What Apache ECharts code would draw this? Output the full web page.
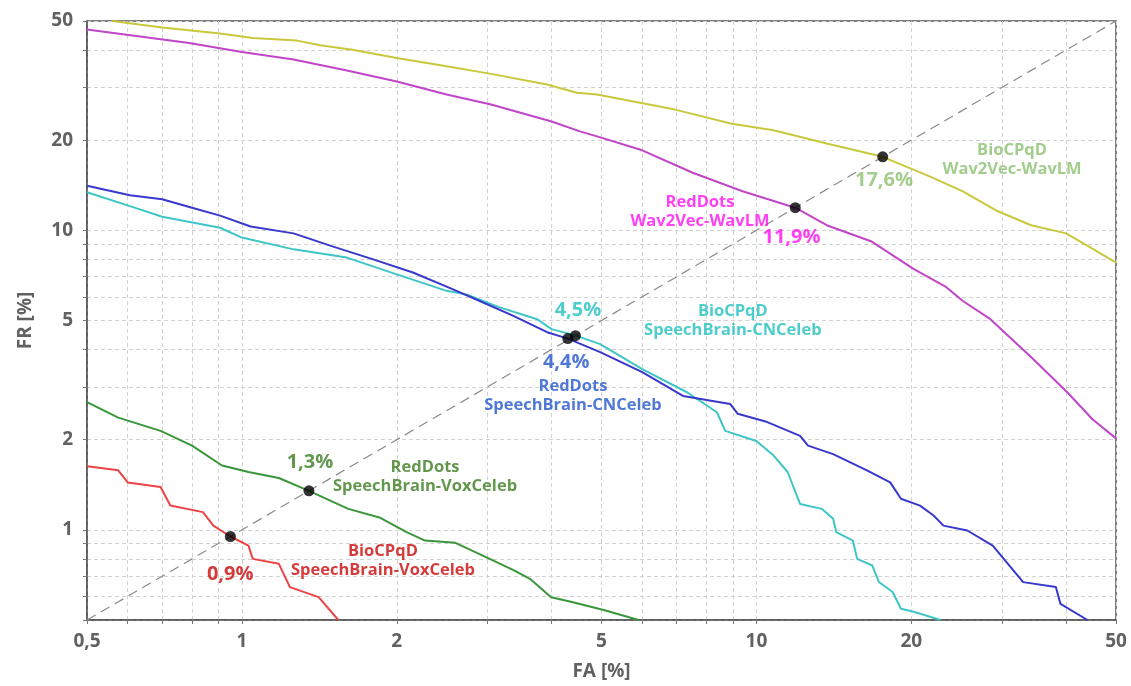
<!DOCTYPE html>
<html>
<head>
<meta charset="utf-8">
<script src="https://cdn.jsdelivr.net/npm/echarts@6/dist/echarts.min.js"></script>
<style>
html,body{margin:0;padding:0;background:#fff;}
#chart{width:1131px;height:686px;}
</style>
</head>
<body>
<div id="chart"></div>
<script>
// ---- Axis values ----
const gridValues = [0.5,0.6,0.7,0.8,0.9,1,2,3,4,5,6,7,8,9,10,20,30,40,50];
const xLabelValues = [0.5,1,2,5,10,20,50];
const yLabelValues = [1,2,5,10,20,50];

// ---- Series data (FA %, FR %) ----
const bioWavFA = [0.56,0.70,0.907,1.05,1.28,1.42,1.64,2.0,2.5,3.05,3.92,4.48,4.9,6.95,8.96,10.8,13.7,17.6,21.6,25.2,29.4,34.2,40,44.9,50];
const bioWavFR = [50,47.6,45.4,43.9,43.0,41.5,40.1,37.6,35.3,33.3,30.7,28.8,28.4,25.3,22.7,21.6,19.5,17.6,15.2,13.5,11.6,10.4,9.77,8.71,7.8];

const redWavFA = [0.5,0.597,0.79,1.0,1.26,1.6,2.0,2.5,3.05,4.0,4.54,4.9,6.0,7.5,9.4,11.9,13.7,16.7,20.2,23.4,25.2,28.5,34.5,40.2,45,50];
const redWavFR = [46.8,45.0,42.2,39.4,37.2,34.2,31.4,28.4,26.3,23.1,21.4,20.6,18.5,15.6,13.5,11.9,10.4,9.2,7.44,6.46,5.81,5.05,3.72,2.88,2.34,2.02];

const redCnFA = [0.5,0.606,0.70,0.80,0.907,1.04,1.26,1.5,1.8,2.15,2.54,2.9,3.37,3.92,4.3,4.97,6.0,7.2,8.9,9.2,10.5,12.16,12.6,14.1,16.4,18.2,19.1,20.8,22.1,23.1,25.7,28.8,33,38.2,39,44];
const redCnFR = [14.1,13.1,12.7,11.9,11.2,10.3,9.77,8.84,8.0,7.23,6.41,5.81,5.18,4.57,4.35,3.92,3.36,2.80,2.63,2.44,2.29,2.06,1.91,1.79,1.58,1.44,1.27,1.205,1.116,1.033,0.995,0.886,0.669,0.644,0.566,0.5];

const bioCnFA = [0.5,0.606,0.70,0.907,1.0,1.26,1.6,2.0,2.5,2.74,3.17,3.75,4.0,4.46,4.97,6.0,7.33,8.38,8.7,10,10.8,11.5,12.16,13.4,14.1,14.3,15.4,15.7,16.8,17.3,18.4,19.1,20.3,22.8];
const bioCnFR = [13.4,12.05,11.1,10.2,9.46,8.64,8.11,7.13,6.28,6.1,5.53,5.05,4.68,4.45,4.17,3.44,2.88,2.47,2.14,1.98,1.77,1.56,1.22,1.175,1.088,0.982,0.921,0.80,0.76,0.67,0.62,0.545,0.532,0.5];

const redVoxFA = [0.5,0.575,0.695,0.80,0.915,1.03,1.18,1.35,1.61,1.85,2.09,2.27,2.6,2.94,3.38,3.63,3.99,4.38,5.05,5.9];
const redVoxFR = [2.67,2.37,2.14,1.91,1.64,1.56,1.49,1.35,1.175,1.10,0.982,0.921,0.905,0.82,0.732,0.686,0.596,0.574,0.54,0.5];

const bioVoxFA = [0.5,0.575,0.6,0.695,0.726,0.84,0.88,0.95,1.03,1.05,1.18,1.24,1.41,1.54];
const bioVoxFR = [1.63,1.58,1.44,1.39,1.205,1.146,1.033,0.95,0.886,0.80,0.77,0.644,0.596,0.5];

// EER points
const eerFA = [0.95,1.35,4.3,4.45,11.9,17.6];
const eerFR = [0.95,1.35,4.35,4.45,11.9,17.6];

// Annotations (text, data position)
const annTexts = ['0,9%','BioCPqD\nSpeechBrain-VoxCeleb','1,3%','RedDots\nSpeechBrain-VoxCeleb','4,4%','RedDots\nSpeechBrain-CNCeleb','4,5%','BioCPqD\nSpeechBrain-CNCeleb','11,9%','RedDots\nWav2Vec-WavLM','17,6%','BioCPqD\nWav2Vec-WavLM'];
const annFA = [0.949,1.88,1.356,2.27,4.27,4.40,4.5,9.0,11.7,7.77,17.7,31.4];
const annFR = [0.713,0.788,1.685,1.50,3.63,2.80,5.41,4.97,9.48,11.5,14.7,17.25];
const annColors = ['#cc0a0a','#cc0a0a','#3b7d1f','#3b7d1f','#2456cc','#2456cc','#22c0c0','#22c0c0','#ff10f0','#ff10f0','#8cc070','#8cc070'];
const annBig = [true,false,true,false,true,false,true,false,true,false,true,false];

const FONT = '"Open Sans", "Noto Sans", sans-serif';
const zip = (a,b)=>a.map((v,i)=>[v,b[i]]);
const fmt = v => String(+v.toPrecision(6)).replace('.', ',');

const chart = echarts.init(document.getElementById('chart'), null, {renderer:'canvas'});

function curve(fa, fr, color){
  return {type:'line', data: zip(fa,fr), showSymbol:false, symbol:'none', z:3,
    lineStyle:{color:color, width:2}, silent:true, animation:false};
}

function axis(name, labels, gap, margin){
  return {
    type:'log', logBase:10, min:0.5, max:50, name:name, nameLocation:'middle', nameGap:gap,
    axisLine:{show:true, lineStyle:{color:'#555', width:1.5}},
    axisTick:{show:true, customValues: gridValues, length:4, lineStyle:{color:'#777'}},
    splitLine:{show:true, lineStyle:{color:'#d2d2d2', type:[4,3], width:1}},
    axisLabel:{customValues: labels, formatter: fmt, margin:margin, color:'#616161', fontFamily: FONT, fontWeight:'bold', fontSize:19},
    nameTextStyle:{color:'#616161', fontFamily: FONT, fontWeight:'bold', fontSize:19}
  };
}

const option = {
  animation:false,
  backgroundColor:'#fff',
  grid:{left:87, right:15, top:21, bottom:65, show:true, borderColor:'#555', borderWidth:1.5, containLabel:false},
  xAxis: axis('FA [%]', xLabelValues, 42, 12),
  yAxis: axis('FR [%]', yLabelValues, 52, 14),
  series:[
    {type:'line', data:[[0.5,0.5],[50,50]], showSymbol:false, symbol:'none', z:2,
     lineStyle:{color:'#8a8a8a', width:1.2, type:[10,6]}, silent:true},
    curve(bioWavFA, bioWavFR, '#c9c83d'),
    curve(redWavFA, redWavFR, '#c045c8'),
    curve(bioCnFA, bioCnFR, '#3ec6c6'),
    curve(redCnFA, redCnFR, '#3838cc'),
    curve(redVoxFA, redVoxFR, '#3a963a'),
    curve(bioVoxFA, bioVoxFR, '#ec4444'),
    {type:'scatter', data: zip(eerFA, eerFR), symbolSize:11, z:5,
     itemStyle:{color:'#000'}, silent:true},
    {type:'scatter', symbolSize:0, z:6, silent:true,
     data: annTexts.map((t,i)=>({value:[annFA[i], annFR[i]], name:t,
       label:{show:true, position:'inside', formatter:t, color:annColors[i],
         fontFamily:FONT, fontWeight:'bold', fontSize: annBig[i]?20:16.5,
         lineHeight: annBig[i]?24:19, align:'center', verticalAlign:'middle'}}))}
  ]
};
chart.setOption(option);
</script>
</body>
</html>
